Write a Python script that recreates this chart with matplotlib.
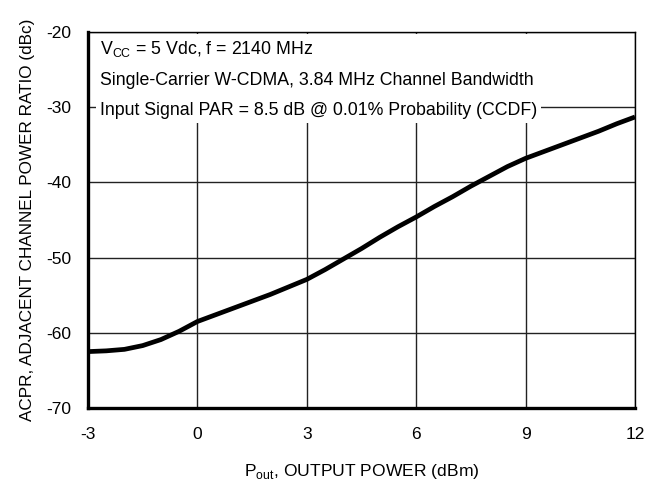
import matplotlib
matplotlib.use('Agg')
import matplotlib.pyplot as plt

plt.rcParams['font.family'] = ['Liberation Sans', 'DejaVu Sans']

# ACPR vs output power
pout = [-3, -2.5, -2, -1.5, -1, -0.5, 0, 0.5, 1, 1.5, 2, 2.5, 3, 3.5, 4, 4.5,
        5, 5.5, 6, 6.5, 7, 7.5, 8, 8.5, 9, 9.5, 10, 10.5, 11, 11.5, 12]
acpr = [-62.5, -62.4, -62.2, -61.7, -60.9, -59.8, -58.5, -57.6, -56.7, -55.8,
        -54.9, -53.9, -52.9, -51.6, -50.2, -48.8, -47.3, -45.9, -44.6, -43.2,
        -41.9, -40.5, -39.2, -37.9, -36.8, -35.9, -35.0, -34.1, -33.2, -32.2, -31.3]

x_ticks = [-3, 0, 3, 6, 9, 12]
y_ticks = [-70, -60, -50, -40, -30, -20]

fig = plt.figure(figsize=(6.45, 4.87), dpi=100)
ax = fig.add_axes([0.1364, 0.1622, 0.8481, 0.7721])

ax.plot(pout, acpr, color='black', linewidth=3.4, solid_capstyle='butt',
        solid_joinstyle='round', zorder=3)

ax.set_xlim(-3, 12)
ax.set_ylim(-70, -20)
ax.set_xticks(x_ticks)
ax.set_yticks(y_ticks)
ax.set_xticklabels([str(v) for v in x_ticks])
ax.set_yticklabels([str(v) for v in y_ticks])
ax.tick_params(length=0, labelsize=12.5)
ax.tick_params(axis='x', pad=14)
ax.tick_params(axis='y', pad=12)

ax.grid(True, color='#222222', linewidth=1.0)
ax.set_axisbelow(True)

ax.spines['left'].set_linewidth(2.4)
ax.spines['bottom'].set_linewidth(2.4)
ax.spines['top'].set_linewidth(1.0)
ax.spines['right'].set_linewidth(1.0)

ax.set_xlabel('P$_{\\mathregular{out}}$, OUTPUT POWER (dBm)', fontsize=12.6, labelpad=14)
ax.set_ylabel('ACPR, ADJACENT CHANNEL POWER RATIO (dBc)', fontsize=12.3, labelpad=8)

note = ('V$_{\\mathregular{CC}}$ = 5 Vdc, f = 2140 MHz\n'
        'Single-Carrier W-CDMA, 3.84 MHz Channel Bandwidth\n'
        'Input Signal PAR = 8.5 dB @ 0.01% Probability (CCDF)')
ax.text(0.022, 0.982, note, transform=ax.transAxes, fontsize=12.8, va='top', ha='left',
        linespacing=2.02, zorder=4,
        bbox=dict(facecolor='white', edgecolor='none', pad=3))

fig.savefig('out.png', dpi=100)
